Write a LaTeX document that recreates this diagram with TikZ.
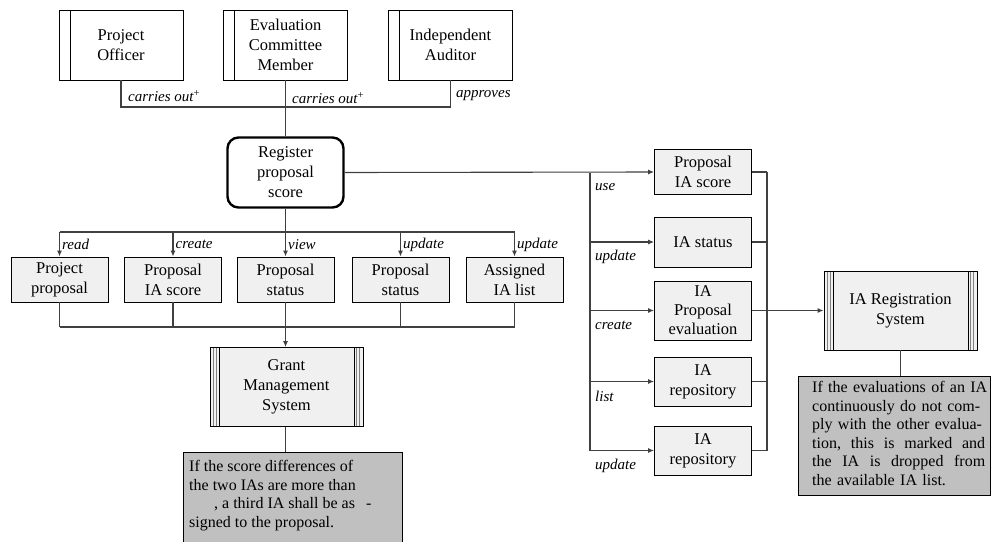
\documentclass[tikz,border=0pt]{standalone}
\usepackage{fontspec}
\setmainfont{Liberation Serif}
\usetikzlibrary{arrows.meta}

\definecolor{linegray}{HTML}{404040}
\definecolor{boxfill}{HTML}{F0F0F0}
\definecolor{notefill}{HTML}{C0C0C0}
\definecolor{strip}{HTML}{808080}

\newcommand\bxfont{\fontsize{16.5}{20}\selectfont}
\newcommand\lblfont{\fontsize{15}{17}\selectfont\itshape}
\newcommand\ntfont{\fontsize{16}{18.6}\selectfont}
% a line spread to the full width of the note
\newcommand\fullline[1]{\makebox[173pt][l]{#1}}

\begin{document}
\begin{tikzpicture}[x=1pt,y=-1pt,
  conn/.style={draw=linegray, line width=1.1pt},
  arr/.style={conn, -{Latex[length=6pt,width=5pt]}},
  actor/.style={draw=black, line width=0.9pt, fill=white, minimum width=124pt,
    minimum height=70pt, align=center, font=\bxfont, inner sep=0pt,
    path picture={\draw[line width=0.9pt]
      ([xshift=11pt]path picture bounding box.north west) --
      ([xshift=11pt]path picture bounding box.south west);}},
  process/.style={draw=black, line width=2.4pt, rounded corners=11pt, fill=white,
    minimum width=116pt, minimum height=70pt, align=center, font=\bxfont, inner sep=0pt},
  entity/.style={draw=black, line width=0.9pt, fill=boxfill, minimum width=97pt,
    minimum height=45pt, align=center, font=\bxfont, inner sep=0pt},
  system/.style={draw=black, line width=0.9pt, fill=boxfill, minimum width=153pt,
    minimum height=79pt, align=center, font=\bxfont, inner sep=0pt,
    path picture={
      \foreach \d/\c in {3.3/strip,6.6/strip,9/black}{
        \draw[line width=0.8pt,\c]
          ([xshift=\d pt]path picture bounding box.north west) --
          ([xshift=\d pt]path picture bounding box.south west);
        \draw[line width=0.8pt,\c]
          ([xshift=-\d pt]path picture bounding box.north east) --
          ([xshift=-\d pt]path picture bounding box.south east);}}},
  note/.style={draw=black, line width=0.9pt, fill=notefill, inner sep=0pt},
  notetext/.style={font=\ntfont, align=left, inner sep=0pt, anchor=north west},
  lbl/.style={font=\lblfont, inner sep=0pt, anchor=west}
]
\clip (0,0) rectangle (992,541);
\fill[white] (0,0) rectangle (992,541);

% actors
\node[actor] (po)  at (121,45)   {Project\\Officer};
\node[actor] (ecm) at (285.5,45) {Evaluation\\Committee\\Member};
\node[actor] (iau) at (450.5,45) {Independent\\Auditor};

% central process
\node[process] (reg) at (285.5,172.5) {Register\\proposal\\score};

% data used by the process (left row)
\node[entity] (pp)  at (59.5,279.5)  {Project\\proposal};
\node[entity] (pis) at (173,279.5)   {Proposal\\IA score};
\node[entity] (ps1) at (285.5,279.5) {Proposal\\status};
\node[entity] (ps2) at (400.5,279.5) {Proposal\\status};
\node[entity] (ail) at (514.5,279.5) {Assigned\\IA list};

% grant management system and its note
\node[system] (gms) at (286.5,387) {Grant\\Management\\System};
\node[note, minimum width=219pt, minimum height=100pt, anchor=north] (n1) at (292.5,452) {};
\node[notetext] (n1t) at (189,460) {If the score differences of\\
  the two IAs are more than\\
  \hspace*{25pt}, a third IA shall be as\hspace{11pt}-\\
  signed to the proposal.};

% data used by the process (right column)
\node[entity] (rps) at (703,172)   {Proposal\\IA score};
\node[entity, minimum height=50pt] (rst) at (703,242) {IA status};
\node[entity, minimum height=59pt, font=\fontsize{16.5}{19}\selectfont] (rev) at (703,310.5) {IA\\Proposal\\evaluation};
\node[entity, minimum height=49pt] (rr1) at (703,381.5) {IA\\repository};
\node[entity, minimum height=49pt] (rr2) at (703,450.5) {IA\\repository};

% IA registration system and its note
\node[system] (irs) at (900.5,310.5) {IA Registration\\System};
\node[note, minimum width=192pt, minimum height=119pt] (n2) at (894,435.5) {};
\node[notetext, text width=182pt] (n2t) at (812,381) {If the evaluations of an IA\\
  continuously do not com-\\
  ply with the other evalua-\\
  \fullline{tion,\hfill this\hfill is\hfill marked\hfill and}\\
  \fullline{the\hfill IA\hfill is\hfill dropped\hfill from}\\
  the available IA list.};

% actors to process
\coordinate (trail) at (0,107);
\draw[conn] (po.south) -- (po.south |- trail) -- (iau.south |- trail) -- (iau.south);
\draw[conn] (ecm.south) -- (reg.north);
\node[lbl] (l1) at (128,96) {carries out\textsuperscript{\upshape +}};
\node[lbl] (l2) at (292,98) {carries out\textsuperscript{\upshape +}};
\node[lbl] (l3) at (456,96) {approves};

% process to left row
\coordinate (rail1) at (0,232);
\draw[conn] (reg.south) -- (reg.south |- rail1);
\draw[conn] (pp.north |- rail1) -- (ail.north |- rail1);
\foreach \n/\t in {pp/read, pis/create, ps1/view, ps2/update, ail/update}{
  \draw[arr] (\n.north |- rail1) -- (\n.north);
  \node[lbl] (lab-\n) at ([xshift=2.5pt,yshift=12pt]\n.north) {\t};
}

% left row to grant management system
\coordinate (rail2) at (0,327);
\draw[conn] (pp.south |- rail2) -- (ail.south |- rail2);
\foreach \n in {pp, pis, ps2, ail}{
  \draw[conn] (\n.south) -- (\n.south |- rail2);
}
\draw[arr] (ps1.south) -- (gms.north -| ps1.south);
\draw[conn] (gms.south -| ps1.south) -- (n1.north -| ps1.south);

% process to right column
\coordinate (spine) at (590,0);
\draw[arr] (reg.east) -- (rps.west);
\draw[conn] (reg.east -| spine) -- (rr2.west -| spine);
\foreach \n in {rst, rev, rr1, rr2}{
  \draw[arr] (\n.west -| spine) -- (\n.west);
}
\foreach \n/\t in {rps/use, rst/update, rev/create, rr1/list, rr2/update}{
  \node[lbl] (lab-\n) at ([xshift=5pt,yshift=-15pt]\n.west -| spine) {\t};
}

% right column to IA registration system
\coordinate (coll) at (767,0);
\foreach \n in {rps, rst, rr1, rr2}{
  \draw[conn] (\n.east) -- (\n.east -| coll);
}
\draw[conn] (rps.east -| coll) -- (rr2.east -| coll);
\draw[arr] (rev.east) -- (irs.west);
\draw[conn] (irs.south) -- (irs.south |- n2.north);
\end{tikzpicture}
\end{document}
